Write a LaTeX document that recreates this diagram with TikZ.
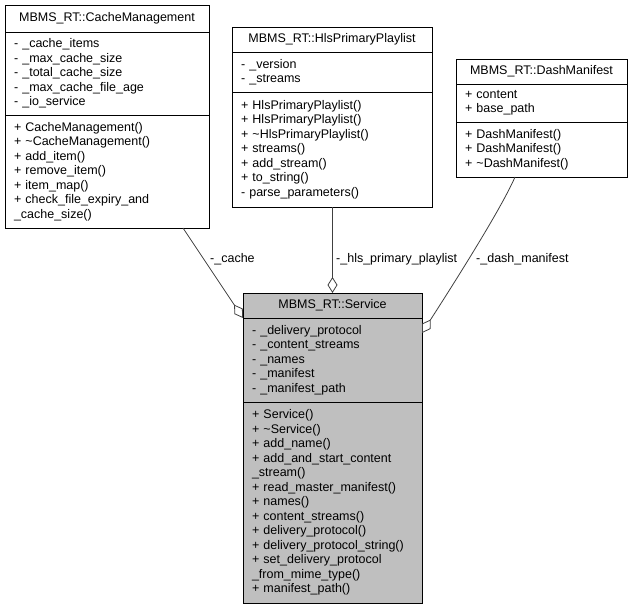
\documentclass[tikz,border=0pt]{standalone}
\usepackage{fontspec}
\setmainfont{Liberation Sans}
\usetikzlibrary{positioning, arrows.meta}
\definecolor{dgBoxS}{HTML}{000000}
\definecolor{dgEdgeS}{HTML}{404040}
\definecolor{dgHiF}{HTML}{BFBFBF}
\tikzset{
  dgBase/.style={rectangle, draw=dgBoxS, fill=white, line width=0.8pt,
                 inner xsep=9pt, inner ysep=1pt, outer sep=0pt,
                 font=\fontsize{12.5}{14.5}\selectfont},
  dgHead/.style={dgBase, align=center},
  dgPart/.style={dgBase, align=left},
  dgHi/.style={fill=dgHiF},
  dgAggr/.style={{Diamond[open, length=16pt, width=10pt]}-, line width=0.8pt, draw=dgEdgeS},
  dgLabel/.style={font=\fontsize{12.5}{14.5}\selectfont, inner sep=0pt, anchor=west},
}

\begin{document}
\begin{tikzpicture}[x=1pt, y=-1pt, node distance=0pt]
  \useasboundingbox (0,0) rectangle (633,609);

  % ─── Referenced classes (top row) ─────────────────────────────────────────────
  \node[dgHead, anchor=north west, text width=186pt, minimum height=27pt] (cm) at (5,5)
        {MBMS\_RT::CacheManagement};
  \node[dgPart, below=of cm, text width=186pt, minimum height=83pt] (cmattr)
        {- \_cache\_items\\- \_max\_cache\_size\\- \_total\_cache\_size\\- \_max\_cache\_file\_age\\- \_io\_service};
  \node[dgPart, below=of cmattr, text width=186pt, minimum height=113pt] (cmops)
        {+ CacheManagement()\\+ \textasciitilde CacheManagement()\\+ add\_item()\\+ remove\_item()\\+ item\_map()\\+ check\_file\_expiry\_and\\\_cache\_size()};

  \node[dgHead, anchor=north west, text width=182pt, minimum height=25pt] (hls) at (232,27)
        {MBMS\_RT::HlsPrimaryPlaylist};
  \node[dgPart, below=of hls, text width=182pt, minimum height=40pt] (hlsattr)
        {- \_version\\- \_streams};
  \node[dgPart, below=of hlsattr, text width=182pt, minimum height=115pt] (hlsops)
        {+ HlsPrimaryPlaylist()\\+ HlsPrimaryPlaylist()\\+ \textasciitilde HlsPrimaryPlaylist()\\+ streams()\\+ add\_stream()\\+ to\_string()\\- parse\_parameters()};

  \node[dgHead, anchor=north west, text width=153pt, minimum height=25pt] (dash) at (456,59)
        {MBMS\_RT::DashManifest};
  \node[dgPart, below=of dash, text width=153pt, minimum height=38pt] (dashattr)
        {+ content\\+ base\_path};
  \node[dgPart, below=of dashattr, text width=153pt, minimum height=55pt] (dashops)
        {+ DashManifest()\\+ DashManifest()\\+ \textasciitilde DashManifest()};

  % ─── The documented class, highlighted ────────────────────────────────────────
  \node[dgHead, dgHi, anchor=north west, text width=161pt, minimum height=25pt] (svc) at (243,293)
        {MBMS\_RT::Service};
  \node[dgPart, dgHi, below=of svc, text width=161pt, minimum height=84pt] (svcattr)
        {- \_delivery\_protocol\\- \_content\_streams\\- \_names\\- \_manifest\\- \_manifest\_path};
  \node[dgPart, dgHi, below=of svcattr, text width=161pt, minimum height=201pt] (svcops)
        {+ Service()\\+ \textasciitilde Service()\\+ add\_name()\\+ add\_and\_start\_content\\\_stream()\\+ read\_master\_manifest()\\+ names()\\+ content\_streams()\\+ delivery\_protocol()\\+ delivery\_protocol\_string()\\+ set\_delivery\_protocol\\\_from\_mime\_type()\\+ manifest\_path()};

  % ─── Aggregations, diamond on the owning class ────────────────────────────────
  \draw[dgAggr] (svc.south west) -- ([xshift=-26pt]cmops.south east);
  \draw[dgAggr] (svc.north) -- (svc.north |- hlsops.south);
  \draw[dgAggr] ([yshift=-15pt]svc.south east) .. controls (440,305) and (500,212)
        .. ([xshift=-112pt]dashops.south east);

  \node[dgLabel] (lcache) at (210,259) {-\_cache};
  \node[dgLabel] (lhls)   at (336,259) {-\_hls\_primary\_playlist};
  \node[dgLabel] (ldash)  at (476,259) {-\_dash\_manifest};

\end{tikzpicture}
\end{document}
